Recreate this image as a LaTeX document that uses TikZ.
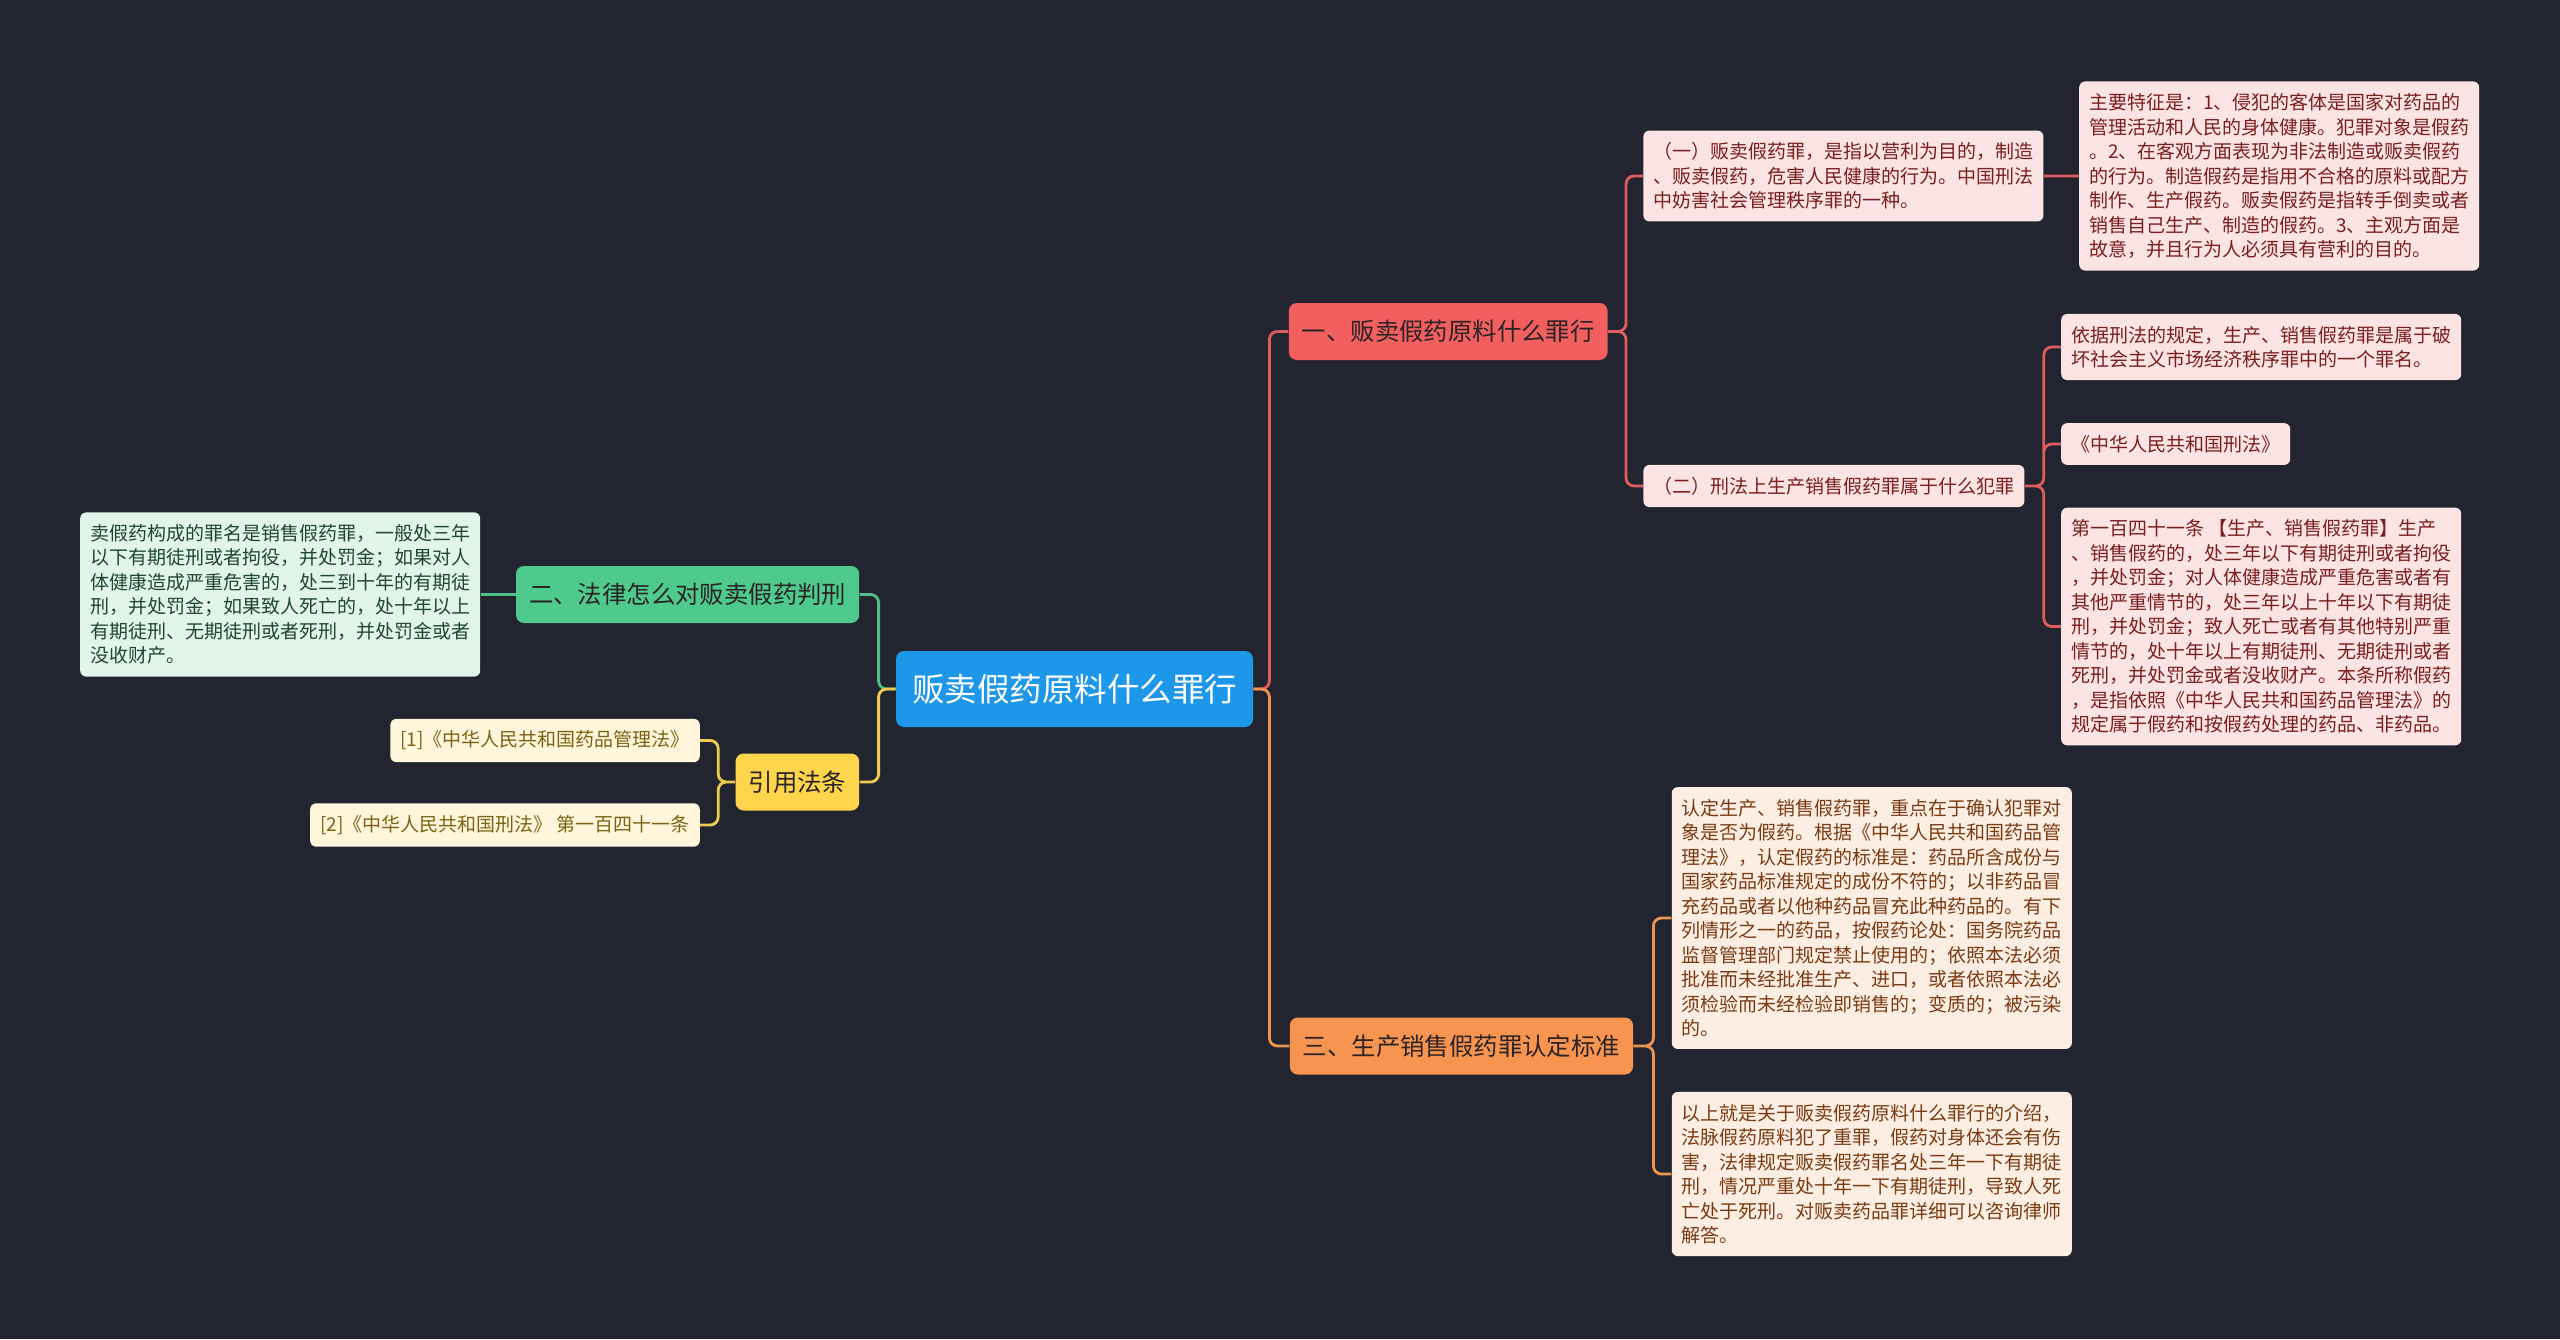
\documentclass[tikz,border=0pt]{standalone}
\usepackage{fontspec}
\setmainfont{Noto Sans CJK SC}
\usetikzlibrary{positioning}

\definecolor{bg}{HTML}{22252F}
\definecolor{rootblue}{HTML}{1D97EA}
\definecolor{redb}{HTML}{F25F5F}
\definecolor{redl}{HTML}{DE5C5E}
\definecolor{redlf}{HTML}{FDE4E4}
\definecolor{redtx}{HTML}{7A1E1E}
\definecolor{orab}{HTML}{F7944F}
\definecolor{oral}{HTML}{EE9452}
\definecolor{oralf}{HTML}{FDEEE4}
\definecolor{oratx}{HTML}{7A3B12}
\definecolor{grnb}{HTML}{4ECB8C}
\definecolor{grnl}{HTML}{4DBF88}
\definecolor{grnlf}{HTML}{E2F5EB}
\definecolor{grntx}{HTML}{1F4633}
\definecolor{ylwb}{HTML}{FFD54C}
\definecolor{ylwl}{HTML}{F0CC4E}
\definecolor{ylwlf}{HTML}{FFF6DC}
\definecolor{ylwtx}{HTML}{7A6414}
\definecolor{brtx}{HTML}{2B2326}

\begin{document}
\begin{tikzpicture}[
    rootbox/.style={fill=rootblue,text=white,rounded corners=4pt,minimum height=38pt,inner xsep=8pt,font=\fontsize{16.25pt}{19pt}\selectfont},
    br/.style={text=brtx,rounded corners=4pt,minimum height=28.5pt,inner xsep=6.5pt,font=\fontsize{12.2pt}{14pt}\selectfont},
    lf/.style={rounded corners=3pt,inner xsep=5pt,inner ysep=6pt,align=left,font=\fontsize{9.5pt}{12.25pt}\selectfont},
    ln/.style={line width=1.4pt,rounded corners=4pt},
    rbr/.style={br,fill=redb}, rlf/.style={lf,fill=redlf,text=redtx}, rln/.style={ln,draw=redl},
    obr/.style={br,fill=orab}, olf/.style={lf,fill=oralf,text=oratx}, oln/.style={ln,draw=oral},
    gbr/.style={br,fill=grnb}, glf/.style={lf,fill=grnlf,text=grntx}, gln/.style={ln,draw=grnl},
    ybr/.style={br,fill=ylwb}, ylf/.style={lf,fill=ylwlf,text=ylwtx}, yln/.style={ln,draw=ylwl},
]

    \fill[bg] (0,0) rectangle (1280pt,-669.5pt);
    \useasboundingbox (0,0) rectangle (1280pt,-669.5pt);

    \node[rootbox] (root) at (537.25pt,-344.5pt) {贩卖假药原料什么罪行};

    % main branches
    \node[rbr,right=17.5pt of root,yshift=178.75pt] (b1) {一、贩卖假药原料什么罪行};
    \node[obr,right=18pt of root,yshift=-178.5pt] (b3) {三、生产销售假药罪认定标准};
    \node[gbr,left=18pt of root,yshift=47.25pt] (b2) {二、法律怎么对贩卖假药判刑};
    \node[ybr,left=18pt of root,yshift=-46.5pt] (cite) {引用法条};

    % branch 1
    \node[rlf,right=17.5pt of b1,yshift=77.75pt] (s1) {（一）贩卖假药罪，是指以营利为目的，制造\\、贩卖假药，危害人民健康的行为。中国刑法\\中妨害社会管理秩序罪的一种。};
    \node[rlf,right=17.5pt of b1,yshift=-77.25pt] (s2) {（二）刑法上生产销售假药罪属于什么犯罪};
    \node[rlf,right=17.5pt of s1] (s1a) {主要特征是：1、侵犯的客体是国家对药品的\\管理活动和人民的身体健康。犯罪对象是假药\\。2、在客观方面表现为非法制造或贩卖假药\\的行为。制造假药是指用不合格的原料或配方\\制作、生产假药。贩卖假药是指转手倒卖或者\\销售自己生产、制造的假药。3、主观方面是\\故意，并且行为人必须具有营利的目的。};
    \node[rlf,right=18pt of s2,yshift=69.5pt] (s2a) {依据刑法的规定，生产、销售假药罪是属于破\\坏社会主义市场经济秩序罪中的一个罪名。};
    \node[rlf,right=18pt of s2,yshift=21pt] (s2b) {《中华人民共和国刑法》};
    \node[rlf,right=18pt of s2,yshift=-70.25pt] (s2c) {第一百四十一条 【生产、销售假药罪】生产\\、销售假药的，处三年以下有期徒刑或者拘役\\，并处罚金；对人体健康造成严重危害或者有\\其他严重情节的，处三年以上十年以下有期徒\\刑，并处罚金；致人死亡或者有其他特别严重\\情节的，处十年以上有期徒刑、无期徒刑或者\\死刑，并处罚金或者没收财产。本条所称假药\\，是指依照《中华人民共和国药品管理法》的\\规定属于假药和按假药处理的药品、非药品。};

    % branch 3
    \node[olf,right=19pt of b3,yshift=64pt] (b3a) {认定生产、销售假药罪，重点在于确认犯罪对\\象是否为假药。根据《中华人民共和国药品管\\理法》，认定假药的标准是：药品所含成份与\\国家药品标准规定的成份不符的；以非药品冒\\充药品或者以他种药品冒充此种药品的。有下\\列情形之一的药品，按假药论处：国务院药品\\监督管理部门规定禁止使用的；依照本法必须\\批准而未经批准生产、进口，或者依照本法必\\须检验而未经检验即销售的；变质的；被污染\\的。};
    \node[olf,right=19pt of b3,yshift=-64pt] (b3b) {以上就是关于贩卖假药原料什么罪行的介绍，\\法脉假药原料犯了重罪，假药对身体还会有伤\\害，法律规定贩卖假药罪名处三年一下有期徒\\刑，情况严重处十年一下有期徒刑，导致人死\\亡处于死刑。对贩卖药品罪详细可以咨询律师\\解答。};

    % left side
    \node[glf,left=17.5pt of b2] (b2a) {卖假药构成的罪名是销售假药罪，一般处三年\\以下有期徒刑或者拘役，并处罚金；如果对人\\体健康造成严重危害的，处三到十年的有期徒\\刑，并处罚金；如果致人死亡的，处十年以上\\有期徒刑、无期徒刑或者死刑，并处罚金或者\\没收财产。};
    \node[ylf,left=17.5pt of cite,yshift=20.75pt] (c1) {[1]《中华人民共和国药品管理法》};
    \node[ylf,left=17.5pt of cite,yshift=-21.5pt] (c2) {[2]《中华人民共和国刑法》 第一百四十一条};

    \draw[rln] (root.east) -- ++(8pt,0) |- (b1.west);
    \draw[oln] (root.east) -- ++(8pt,0) |- (b3.west);
    \draw[gln] (root.west) -- ++(-8.5pt,0) |- (b2.east);
    \draw[yln] (root.west) -- ++(-8.5pt,0) |- (cite.east);

    \draw[rln]
        (b1.east) -- ++(9pt,0) |- (s1.west)
        (b1.east) -- ++(9pt,0) |- (s2.west)
        (s1.east) -- (s1a.west)
        (s2.east) -- ++(9.5pt,0) |- (s2a.west)
        (s2.east) -- ++(9.5pt,0) |- (s2b.west)
        (s2.east) -- ++(9.5pt,0) |- (s2c.west)
    ;
    \draw[oln]
        (b3.east) -- ++(10pt,0) |- (b3a.west)
        (b3.east) -- ++(10pt,0) |- (b3b.west)
    ;
    \draw[gln] (b2.west) -- (b2a.east);
    \draw[yln]
        (cite.west) -- ++(-8.5pt,0) |- (c1.east)
        (cite.west) -- ++(-8.5pt,0) |- (c2.east)
    ;

\end{tikzpicture}
\end{document}
